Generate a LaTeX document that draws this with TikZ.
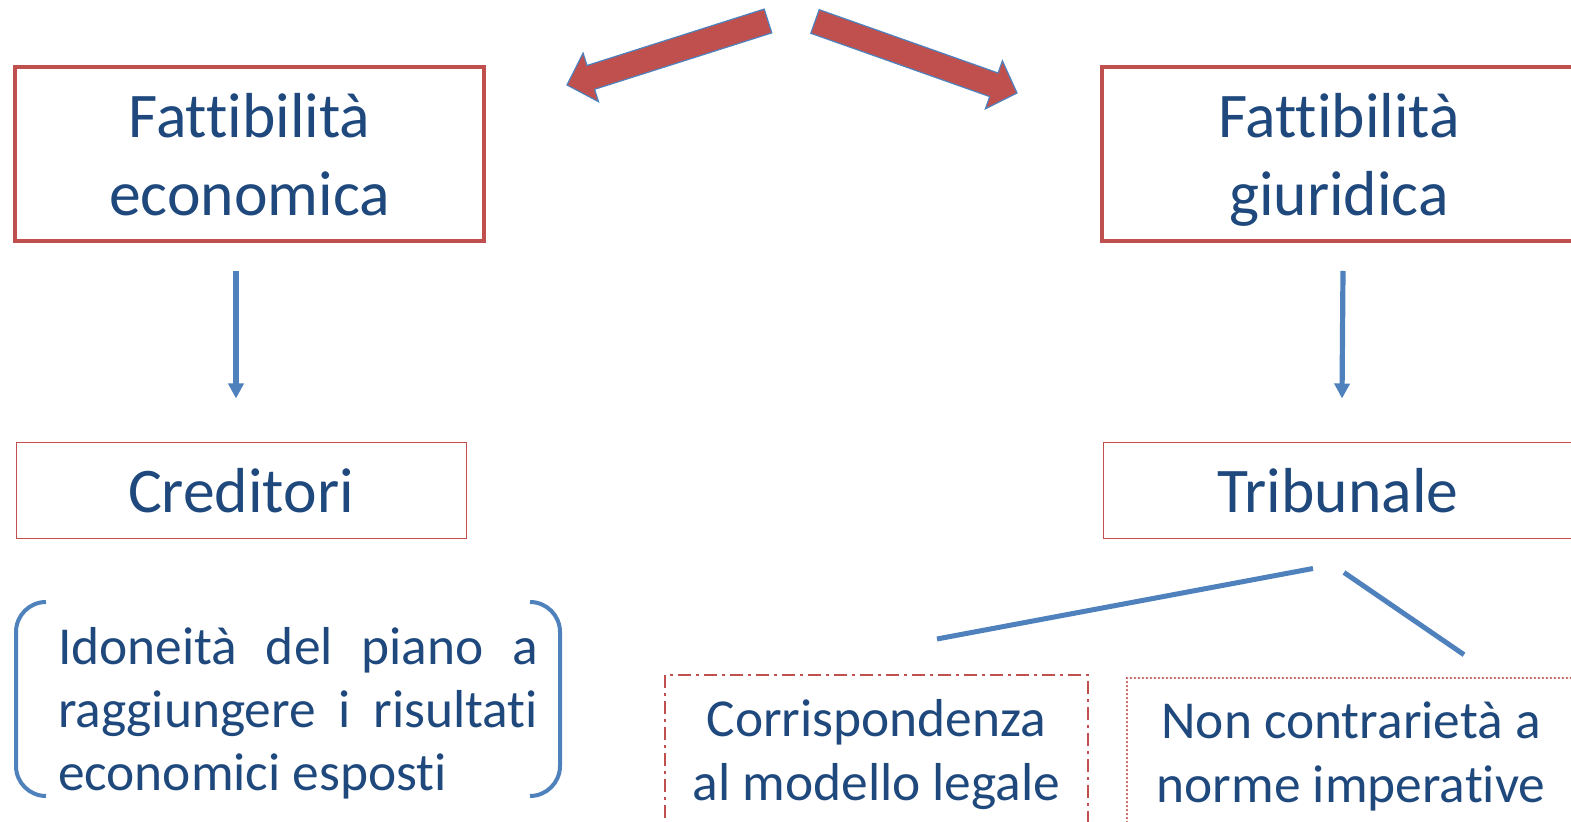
\documentclass[tikz,border=0pt]{standalone}
\usepackage{fontspec}
\setmainfont[Ligatures=NoCommon]{Carlito}
\usetikzlibrary{arrows.meta,calc}
\definecolor{txtblue}{HTML}{1F497D}
\definecolor{boxred}{HTML}{C0504D}
\definecolor{lineblue}{HTML}{4F81BD}

\begin{document}
\begin{tikzpicture}[x=0.5pt,y=-0.5pt,
    bigbox/.style={draw=boxred, line width=2pt, text=txtblue, align=center,
      font=\fontsize{31.8}{39}\selectfont, minimum height=87pt, text depth=0pt},
    smallbox/.style={draw=boxred, line width=0.5pt, text=txtblue,
      font=\fontsize{31.8}{36}\selectfont, minimum height=48pt},
    lowbox/.style={draw=boxred, line width=1pt, text=txtblue, align=center,
      font=\fontsize{26.7}{32}\selectfont, minimum height=84pt, text depth=9.5pt},
    conn/.style={draw=lineblue, line width=2.6pt, -{Triangle[length=7.5pt,width=7.5pt]}},
    branch/.style={draw=lineblue, line width=2.5pt},
    fatarrow/.style={fill=boxred, draw=lineblue, line width=0.6pt}]
    \clip (0,0) rectangle (1571,822);

    % Top arrows
    \filldraw[fatarrow] (771.8,32.9) -- (594.6,89.3) -- (598.5,101.7) -- (567,85)
        -- (583.1,53.1) -- (587.0,65.5) -- (764.2,9.1) -- cycle;
    \filldraw[fatarrow] (810.8,33.3) -- (989.7,96.6) -- (985.4,108.8) -- (1017,93)
        -- (1002.4,60.8) -- (998.1,73.0) -- (819.2,9.7) -- cycle;

    % Main boxes
    \node[bigbox, minimum width=234.5pt] (eco) at (249.5,154) {Fattibilità\\economica};
    \node[bigbox, minimum width=237pt] (giu) at (1339,154) {Fattibilità\\giuridica};

    % Second level
    \node[smallbox, minimum width=225pt] (cred) at (241,491) {Creditori};
    \node[smallbox, minimum width=235pt] (trib) at (1338,491) {Tribunale};

    \draw[conn] ($(eco.south)+(-13.5,28)$) -- ($(cred.north)+(-5,-44)$);
    \draw[conn] ($(giu.south)+(4,28)$) -- ($(trib.north)+(4,-44)$);

    % Bracket note
    \node[text=txtblue, text width=240pt, align=justify,
      font=\fontsize{26.7}{31.5}\selectfont] (idon) at (298,713)
      {Idoneità del piano a\linebreak raggiungere i risultati\linebreak economici esposti};
    \draw[lineblue, line width=2pt, rounded corners=15pt]
      (46,602) -- (16,602) -- (16,796) -- (46,796);
    \draw[lineblue, line width=2pt, rounded corners=15pt]
      (530,602) -- (560,602) -- (560,796) -- (530,796);

    % Requirements under Tribunale
    \node[lowbox, minimum width=211.5pt,
      dash pattern=on 6.5pt off 2.5pt on 1.5pt off 2.5pt] (corr) at (876.5,759)
      {Corrispondenza\\al modello legale};
    \node[lowbox, minimum width=224pt, line width=1.3pt, line cap=round,
      dash pattern=on 0.1pt off 1.9pt] (nonc) at (1351,762)
      {Non contrarietà a\\norme imperative};

    \draw[branch] ($(trib.south)+(-25,29)$) -- ($(corr.north)+(60.5,-35)$);
    \draw[branch] ($(trib.south)+(6,33)$) -- ($(nonc.north)+(113,-22)$);
\end{tikzpicture}
\end{document}
